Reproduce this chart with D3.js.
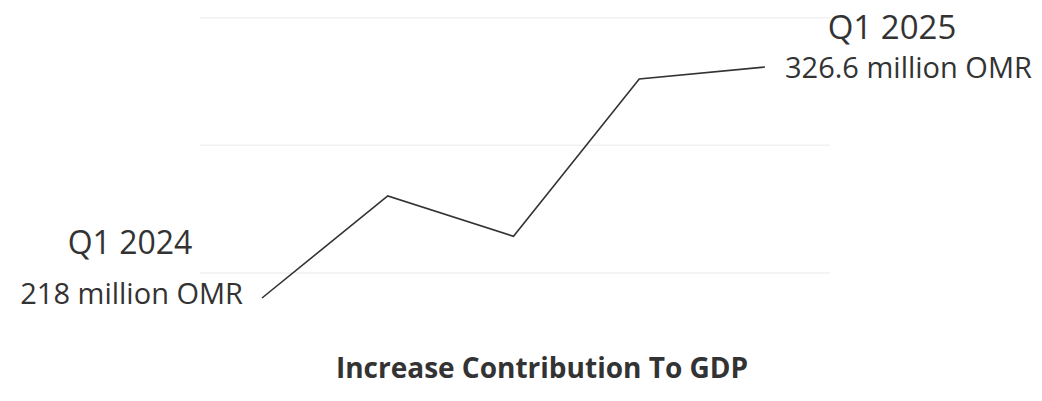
<!DOCTYPE html>
<html>
<head>
<meta charset="utf-8">
<script src="https://cdn.jsdelivr.net/npm/d3@7"></script>
<style>
  body { margin: 0; background: #fff; }
  text { font-family: "Open Sans", sans-serif; fill: #333; }
</style>
</head>
<body>
<div id="chart-area"></div>
<script>
const quarters = ["Q1 2024", "Q2 2024", "Q3 2024", "Q4 2024", "Q1 2025"];
const contribution = [218, 266, 247, 321, 326.6];
const gridTicks = [230, 290, 350];

const chartWidth = 1042;
const chartHeight = 401;

let svg = d3.select("#chart-area").append("svg")
    .attr("width", chartWidth)
    .attr("height", chartHeight);

// scales
const x = d3.scalePoint()
    .domain(quarters)
    .range([262, 765]);

const y = d3.scaleLinear()
    .domain([218, 326.6])
    .range([298, 67]);

// faint gridlines
svg.append("g")
    .attr("class", "grid")
    .attr("transform", "translate(200, 0)")
    .call(d3.axisLeft(y).tickValues(gridTicks).tickSize(-630).tickFormat(""))
    .call(g => g.select(".domain").remove())
    .call(g => g.selectAll("line").attr("stroke", "#f1f1f1").attr("stroke-width", 1.5));

// the line
const line = d3.line()
    .x((d, i) => x(quarters[i]))
    .y(d => y(d));

svg.append("path")
    .datum(contribution)
    .attr("fill", "none")
    .attr("stroke", "#333")
    .attr("stroke-width", 1.6)
    .attr("d", line);

// start / end labels
const first = 0, last = quarters.length - 1;

svg.append("text")
    .attr("x", x(quarters[first]) - 132)
    .attr("y", y(contribution[first]) - 44)
    .attr("text-anchor", "middle")
    .attr("font-size", "32px")
    .text(quarters[first]);

svg.append("text")
    .attr("x", x(quarters[first]) - 19)
    .attr("y", y(contribution[first]) + 6)
    .attr("text-anchor", "end")
    .attr("font-size", "29px")
    .text(contribution[first] + " million OMR");

svg.append("text")
    .attr("x", x(quarters[last]) + 127)
    .attr("y", y(contribution[last]) - 28)
    .attr("text-anchor", "middle")
    .attr("font-size", "33px")
    .text(quarters[last]);

svg.append("text")
    .attr("x", x(quarters[last]) + 20)
    .attr("y", y(contribution[last]) + 11)
    .attr("text-anchor", "start")
    .attr("font-size", "29px")
    .text(contribution[last] + " million OMR");

// title
svg.append("text")
    .attr("x", 542)
    .attr("y", 378)
    .attr("text-anchor", "middle")
    .attr("font-size", "28px")
    .attr("font-weight", "bold")
    .text("Increase Contribution To GDP");
</script>
</body>
</html>
